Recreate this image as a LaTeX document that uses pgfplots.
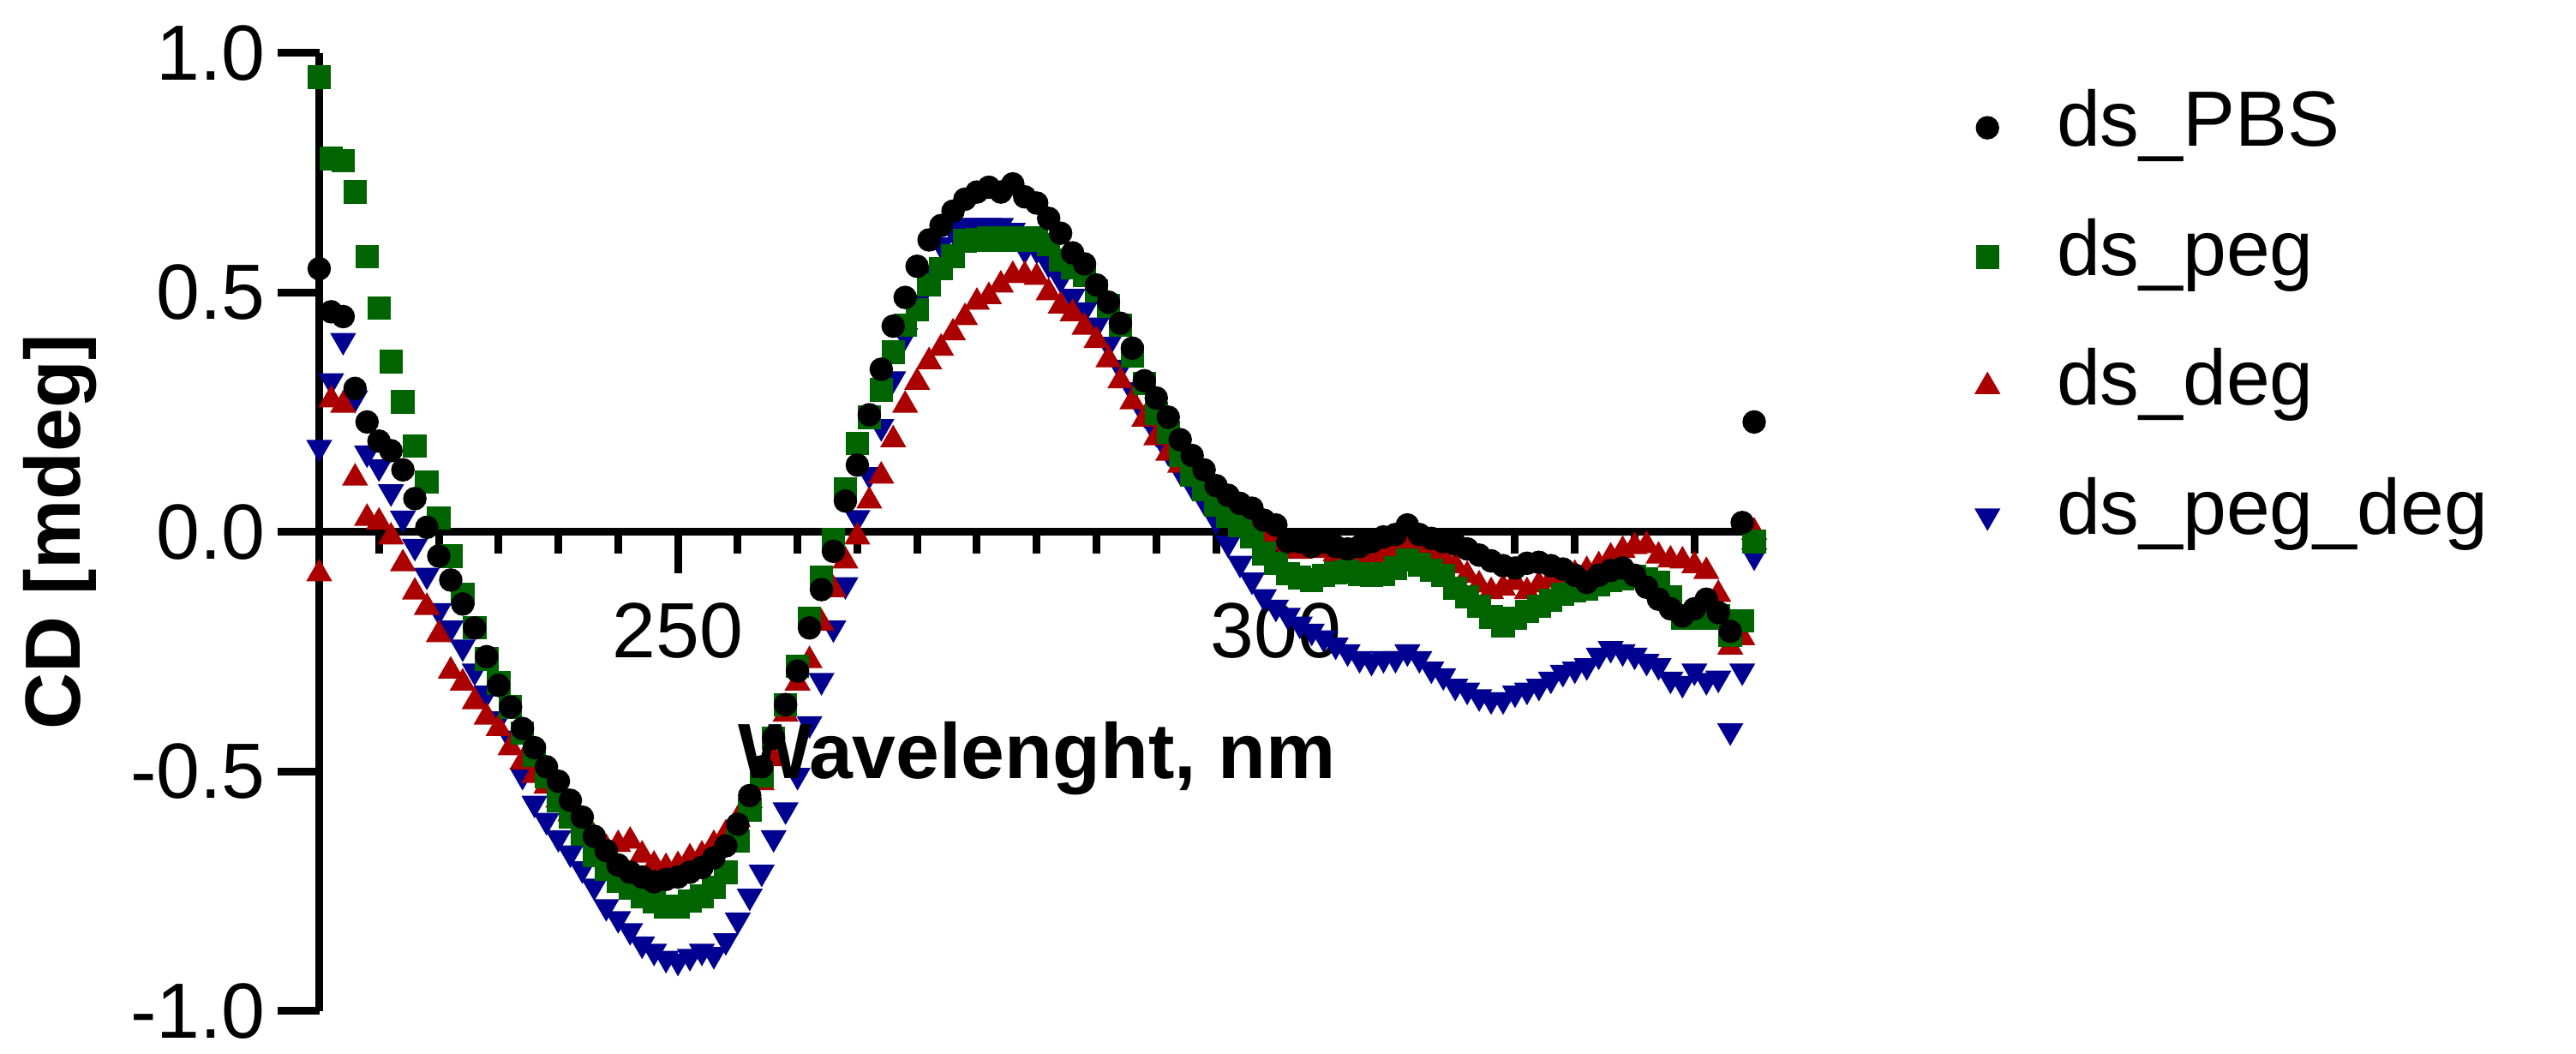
\documentclass[border=0pt]{standalone}
\usepackage{fontspec}
\setmainfont{Liberation Sans}
\usepackage{pgfplots}
\usepackage{pgfplotstable}
\pgfplotsset{compat=1.18}

\definecolor{cdgreen}{RGB}{0,100,0}
\definecolor{cdred}{RGB}{170,0,0}
\definecolor{cdblue}{RGB}{0,0,145}

% wavelength, ds_PBS, ds_peg, ds_deg, ds_peg_deg
\pgfplotstableread{
x pbs peg deg pegdeg
220 0.55 0.95 -0.087 0.177
221 0.46 0.78 0.276 0.316
222 0.45 0.775 0.265 0.40
223 0.30 0.71 0.113 0.28
224 0.23 0.575 0.029 0.165
225 0.19 0.468 0.021 0.136
226 0.17 0.356 -0.01 0.084
227 0.13 0.272 -0.066 0.029
228 0.07 0.18 -0.125 -0.03
229 0.01 0.105 -0.157 -0.09
230 -0.05 0.03 -0.214 -0.164
231 -0.10 -0.05 -0.29 -0.20
232 -0.15 -0.13 -0.315 -0.24
233 -0.20 -0.20 -0.354 -0.29
234 -0.26 -0.265 -0.386 -0.336
235 -0.32 -0.315 -0.41 -0.39
236 -0.365 -0.365 -0.45 -0.43
237 -0.41 -0.42 -0.48 -0.508
238 -0.45 -0.465 -0.508 -0.566
239 -0.49 -0.51 -0.53 -0.602
240 -0.52 -0.56 -0.559 -0.638
241 -0.56 -0.595 -0.588 -0.67
242 -0.595 -0.63 -0.613 -0.703
243 -0.635 -0.675 -0.638 -0.739
244 -0.665 -0.703 -0.66 -0.782
245 -0.695 -0.728 -0.652 -0.807
246 -0.71 -0.743 -0.645 -0.832
247 -0.72 -0.76 -0.674 -0.86
248 -0.73 -0.771 -0.695 -0.875
249 -0.725 -0.782 -0.70 -0.89
250 -0.72 -0.782 -0.696 -0.896
251 -0.71 -0.77 -0.68 -0.886
252 -0.70 -0.76 -0.674 -0.875
253 -0.68 -0.742 -0.652 -0.882
254 -0.655 -0.71 -0.63 -0.853
255 -0.61 -0.645 -0.60 -0.81
256 -0.55 -0.58 -0.56 -0.76
257 -0.49 -0.508 -0.523 -0.71
258 -0.43 -0.43 -0.473 -0.638
259 -0.36 -0.36 -0.38 -0.58
260 -0.29 -0.28 -0.315 -0.508
261 -0.20 -0.18 -0.268 -0.40
262 -0.12 -0.095 -0.19 -0.31
263 -0.04 -0.015 -0.12 -0.20
264 0.065 0.09 -0.06 -0.11
265 0.14 0.185 -0.01 0.03
266 0.245 0.24 0.065 0.12
267 0.34 0.297 0.117 0.22
268 0.43 0.376 0.193 0.32
269 0.49 0.432 0.265 0.41
270 0.555 0.464 0.313 0.48
271 0.61 0.516 0.356 0.54
272 0.64 0.55 0.384 0.60
273 0.67 0.576 0.416 0.63
274 0.695 0.608 0.448 0.64
275 0.71 0.61 0.48 0.64
276 0.72 0.615 0.492 0.64
277 0.71 0.61 0.516 0.64
278 0.727 0.615 0.536 0.63
279 0.70 0.61 0.536 0.59
280 0.687 0.615 0.532 0.59
281 0.655 0.60 0.50 0.56
282 0.624 0.568 0.472 0.528
283 0.583 0.552 0.456 0.492
284 0.56 0.536 0.428 0.464
285 0.516 0.504 0.40 0.432
286 0.48 0.472 0.36 0.392
287 0.436 0.432 0.316 0.344
288 0.384 0.368 0.272 0.297
289 0.316 0.31 0.236 0.248
290 0.28 0.248 0.197 0.208
291 0.24 0.208 0.165 0.168
292 0.193 0.16 0.14 0.128
293 0.16 0.12 0.12 0.097
294 0.13 0.089 0.10 0.065
295 0.097 0.057 0.08 0.025
296 0.077 0.033 0.06 -0.023
297 0.06 0.013 0.045 -0.065
298 0.05 -0.01 0.03 -0.10
299 0.025 -0.045 -0.005 -0.135
300 0.015 -0.065 -0.022 -0.157
301 -0.02 -0.087 -0.034 -0.174
302 -0.02 -0.095 -0.04 -0.192
303 -0.03 -0.10 -0.038 -0.207
304 -0.02 -0.09 -0.037 -0.221
305 -0.03 -0.085 -0.045 -0.236
306 -0.035 -0.082 -0.05 -0.25
307 -0.03 -0.088 -0.058 -0.264
308 -0.02 -0.09 -0.05 -0.27
309 -0.01 -0.088 -0.046 -0.264
310 -0.005 -0.075 -0.035 -0.264
311 0.015 -0.058 -0.022 -0.25
312 -0.005 -0.068 -0.035 -0.264
313 -0.013 -0.08 -0.045 -0.286
314 -0.02 -0.09 -0.052 -0.30
315 -0.025 -0.117 -0.07 -0.322
316 -0.035 -0.135 -0.09 -0.33
317 -0.048 -0.155 -0.11 -0.344
318 -0.06 -0.177 -0.124 -0.35
319 -0.07 -0.195 -0.117 -0.35
320 -0.075 -0.18 -0.105 -0.336
321 -0.065 -0.165 -0.124 -0.33
322 -0.063 -0.155 -0.11 -0.322
323 -0.07 -0.142 -0.10 -0.307
324 -0.077 -0.13 -0.095 -0.293
325 -0.09 -0.123 -0.088 -0.286
326 -0.105 -0.118 -0.08 -0.279
327 -0.09 -0.11 -0.07 -0.257
328 -0.08 -0.10 -0.052 -0.243
329 -0.075 -0.097 -0.038 -0.25
330 -0.09 -0.093 -0.03 -0.257
331 -0.115 -0.097 -0.028 -0.27
332 -0.14 -0.105 -0.05 -0.279
333 -0.16 -0.135 -0.058 -0.307
334 -0.175 -0.18 -0.06 -0.316
335 -0.16 -0.18 -0.07 -0.29
336 -0.14 -0.18 -0.082 -0.31
337 -0.168 -0.175 -0.13 -0.305
338 -0.207 -0.215 -0.24 -0.415
339 0.02 -0.185 -0.22 -0.29
340 0.23 -0.02 0.0 -0.05
}\cdtable

\begin{document}
\begin{tikzpicture}
\useasboundingbox (0,0) rectangle (150.3mm,61.5mm);
\begin{axis}[
    at={(18.625mm,2.5mm)}, anchor=south west,
    scale only axis,
    width=83.725mm, height=55.9mm,
    xmin=220, xmax=340,
    ymin=-1, ymax=1,
    clip=false,
    axis x line=middle,
    axis y line=left,
    axis line style={-, line width=0.45mm},
    hide obscured x ticks=false,
    hide obscured y ticks=false,
    tick align=outside,
    major tick length=2.4mm,
    minor tick length=1.25mm,
    every tick/.style={black, line width=0.45mm},
    every minor tick/.style={black, line width=0.45mm},
    xtick={250,300},
    xticklabels={250,300},
    minor xtick={225,230,235,240,245,255,260,265,270,275,280,285,290,295,305,310,315,320,325,330,335},
    ytick={-1,-0.5,0,0.5,1},
    yticklabels={-1.0,-0.5,0.0,0.5,1.0},
    tick label style={font=\fontsize{13}{15}\selectfont},
    xticklabel style={anchor=north, yshift=-0.5mm},
    yticklabel style={anchor=east, xshift=0.5mm},
    xlabel={Wavelenght, nm},
    ylabel={CD [mdeg]},
    xlabel style={at={(axis description cs:0.5,0.2424)}, anchor=base,
        font=\fontsize{13}{15}\selectfont\bfseries},
    ylabel style={at={(axis description cs:-0.1806,0.5)}, anchor=center,
        font=\fontsize{13}{15}\selectfont\bfseries},
    reverse legend,
    legend cell align=left,
    legend style={at={(axis description cs:1.1541,0.9642)}, anchor=north west,
        draw=none, fill=none, inner sep=0pt, row sep=2.98mm,
        font=\fontsize{13}{15}\selectfont,
        nodes={inner sep=0pt, text height=9.5pt, text depth=3.5pt},
        /tikz/every odd column/.append style={column sep=3.4mm}},
]

\addplot[only marks, mark=triangle*, mark size=2.1pt, color=cdblue,
    mark options={rotate=180, draw=cdblue, fill=cdblue}]
    table[x=x, y=pegdeg]{\cdtable};
\addplot[only marks, mark=triangle*, mark size=2.1pt, color=cdred,
    mark options={draw=cdred, fill=cdred}]
    table[x=x, y=deg]{\cdtable};
\addplot[only marks, mark=square*, mark size=1.75pt, color=cdgreen,
    mark options={draw=cdgreen, fill=cdgreen}]
    table[x=x, y=peg]{\cdtable};
\addplot[only marks, mark=*, mark size=1.75pt, color=black,
    mark options={draw=black, fill=black}]
    table[x=x, y=pbs]{\cdtable};

\legend{ds\_peg\_deg, ds\_deg, ds\_peg, ds\_PBS}
\end{axis}
\end{tikzpicture}
\end{document}
